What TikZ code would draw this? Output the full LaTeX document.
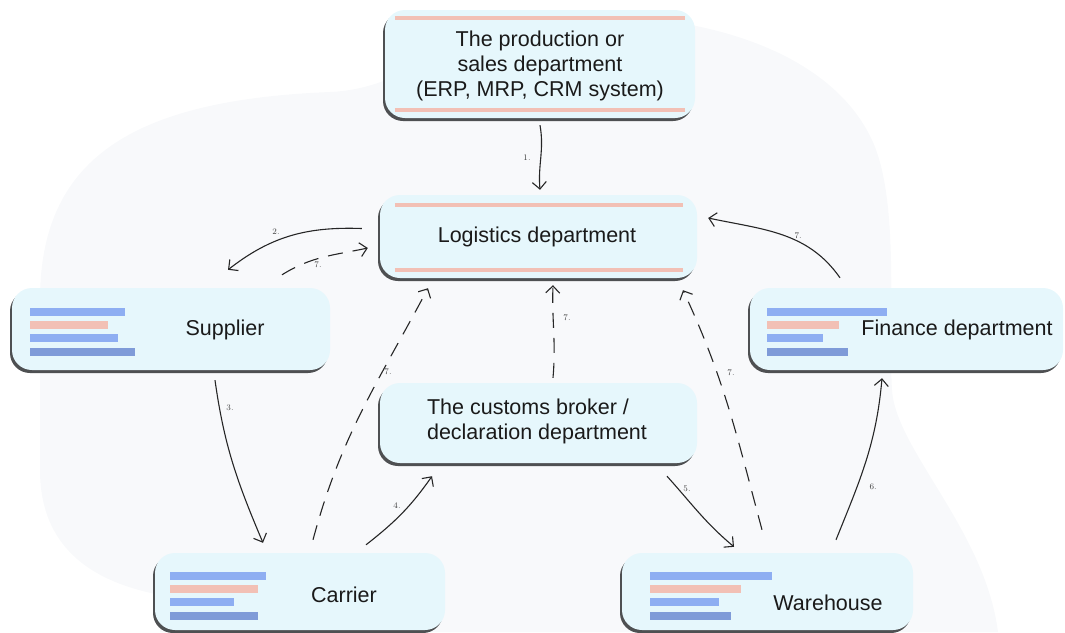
\documentclass[tikz,border=0pt]{standalone}
\usepackage{fontspec}
\setmainfont{Liberation Sans}
\newfontfamily\lblfont{Latin Modern Roman}
\usetikzlibrary{arrows.meta,shadows,calc}
\definecolor{boxfill}{HTML}{E6F7FC}
\definecolor{shadowgray}{HTML}{4E5052}
\definecolor{blobgray}{HTML}{F8F9FB}
\definecolor{barblue}{HTML}{8EAEF2}
\definecolor{barblue2}{HTML}{7F9BD8}
\definecolor{barpink}{HTML}{F2C0B5}
\definecolor{txt}{HTML}{1A1A1A}
\newcommand\mybars[6]{%
  \fill[barblue]  (#1,-#2-4) rectangle (#3,-#2+4);
  \fill[barpink]  (#1,-#2-17) rectangle (#4,-#2-9);
  \fill[barblue]  (#1,-#2-30) rectangle (#5,-#2-22);
  \fill[barblue2] (#1,-#2-44) rectangle (#6,-#2-36);
}
\tikzset{
  box/.style={rounded corners=20pt, fill=boxfill, draw=none, inner sep=0pt,
    drop shadow={shadow xshift=-2pt, shadow yshift=-3pt, fill=shadowgray, opacity=1}},
  btext/.style={text=txt, font=\fontsize{21.5}{25}\selectfont, inner sep=0pt, align=center},
  arr/.style={draw=black!85, line width=1.1pt, -{Straight Barb[length=7pt,width=14pt,line width=1.1pt]}},
  darr/.style={arr, dash pattern=on 15pt off 10pt},
  lbl/.style={font=\lblfont\fontsize{8.5}{8.5}\selectfont, text=black!75, inner sep=0pt},
  pinkline/.style={draw=barpink, line width=4pt}
}
\begin{document}
\begin{tikzpicture}[x=1pt,y=1pt]
\useasboundingbox (0,0) rectangle (1065,-632);
% background blob
\fill[blobgray] (40,-300) .. controls (40,-160) and (130,-100) .. (330,-92)
  .. controls (420,-88) and (450,-20) .. (560,-16)
  .. controls (700,-10) and (830,-50) .. (872,-140)
  .. controls (900,-200) and (888,-320) .. (892,-390)
  .. controls (896,-450) and (985,-530) .. (998,-632)
  -- (160,-632) -- (160,-595)
  .. controls (110,-585) and (40,-560) .. (40,-470) -- cycle;
% boxes
\node[box, minimum width=310pt, minimum height=108pt] (top) at (540,-64) {};
\node[box, minimum width=317pt, minimum height=83pt] (log) at (538.5,-236.5) {};
\node[box, minimum width=318pt, minimum height=82pt] (sup) at (171,-329) {};
\node[box, minimum width=313pt, minimum height=82pt] (fin) at (906.5,-329) {};
\node[box, minimum width=317pt, minimum height=80pt] (cus) at (538.5,-423) {};
\node[box, minimum width=290pt, minimum height=77pt] (car) at (300,-591.5) {};
\node[box, minimum width=291pt, minimum height=77pt] (war) at (767.5,-591.5) {};
% pink lines
\draw[pinkline] ($(top.north west)+(10,-8)$) -- ($(top.north east)+(-10,-8)$);
\draw[pinkline] ($(top.south west)+(10,8)$) -- ($(top.south east)+(-10,8)$);
\draw[pinkline] ($(log.north west)+(15,-10)$) -- ($(log.north east)+(-14,-10)$);
\draw[pinkline] ($(log.south west)+(15,8)$) -- ($(log.south east)+(-14,8)$);
% bars
\mybars{30}{312}{125}{108}{118}{135}
\mybars{767}{312}{887}{839}{823}{848}
\mybars{170}{576}{266}{258}{234}{258}
\mybars{650}{576}{772}{741}{719}{731}
% texts
\node[btext] (topt) at (540,-66) {The production or\\sales department\\(ERP, MRP, CRM system)};
\node[btext] (logt) at (537,-237) {Logistics department};
\node[btext] (supt) at (225,-330) {Supplier};
\node[btext] (fint) at (957,-330) {Finance department};
\node[btext, align=left] (cust) at (537,-421) {The customs broker /\\declaration department};
\node[btext] (cart) at (344,-595) {Carrier};
\node[btext] (wart) at (828,-603) {Warehouse};
% connectors
\draw[arr] ($(top.south)+(0,-7)$) to[out=-80,in=95] ($(log.north)+(1.5,5)$);
\node[lbl] (l1) at (527,-158) {1.};
\draw[arr] ($(log.west)+(-18,8)$) to[out=178,in=38] ($(sup.north)+(57,18)$);
\node[lbl] (l2) at (276,-232) {2.};
\draw[darr] ($(sup.north)+(111,13)$) to[out=32,in=192] ($(log.west)+(-12,-11.5)$);
\node[lbl] (l7a) at (318,-265) {7.};
\draw[arr] ($(sup.south)+(44,-10)$) to[out=-82,in=113] ($(car.north)+(-37,10)$);
\node[lbl] (l3) at (230,-408) {3.};
\draw[darr] ($(car.north)+(13,13)$) to[out=75,in=-118] ($(log.south)+(-110.5,-10)$);
\node[lbl] (l7b) at (388,-372) {7.};
\draw[arr] ($(car.north)+(66,8)$) to[out=38,in=235] ($(cus.south)+(-106.5,-13)$);
\node[lbl] (l4) at (397,-506) {4.};
\draw[darr] ($(cus.north)+(14.5,5)$) to[out=85,in=-92] ($(log.south)+(14.5,-7)$);
\node[lbl] (l7c) at (567,-318) {7.};
\draw[arr] ($(cus.south)+(128.5,-13)$) to[out=-48,in=140] ($(war.north)+(-33.5,6)$);
\node[lbl] (l5) at (687,-489) {5.};
\draw[darr] ($(war.north)+(-5.5,23)$) to[out=105,in=-65] ($(log.south)+(144.5,-12)$);
\node[lbl] (l7d) at (731,-373) {7.};
\draw[arr] ($(war.north)+(68.5,13)$) to[out=68,in=-95] ($(fin.south)+(-24.5,-8)$);
\node[lbl] (l6) at (873,-487) {6.};
\draw[arr] ($(fin.north)+(-66.5,10)$) to[out=125,in=-12] ($(log.east)+(11,18.5)$);
\node[lbl] (l7e) at (798,-236) {7.};
\end{tikzpicture}
\end{document}
